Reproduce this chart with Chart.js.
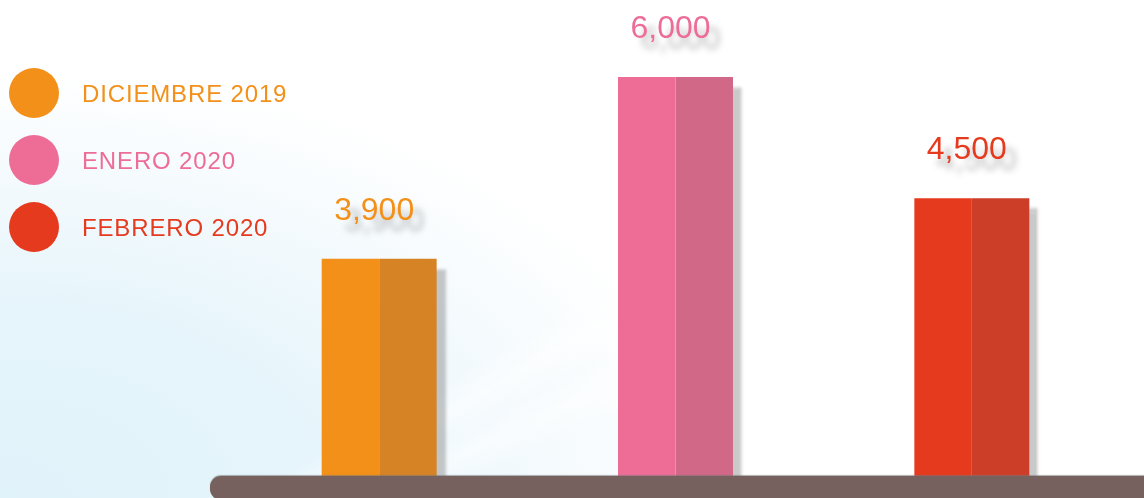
<!DOCTYPE html>
<html>
<head>
<meta charset="utf-8">
<script src="https://cdn.jsdelivr.net/npm/chart.js@4/dist/chart.umd.min.js"></script>
<style>
  html, body { margin: 0; padding: 0; }
  body {
    width: 1144px; height: 498px; overflow: hidden; position: relative;
    background:
      linear-gradient(150deg, rgba(255,255,255,0) 55%, rgba(255,255,255,0.55) 58%, rgba(255,255,255,0) 61%),
      linear-gradient(155deg, rgba(255,255,255,0) 62%, rgba(255,255,255,0.5) 65%, rgba(255,255,255,0) 68%),
      radial-gradient(ellipse 720px 430px at 0% 100%, #e0f2fa 0%, #e6f5fb 45%, #f4fafd 75%, rgba(255,255,255,0) 100%),
      #ffffff;
    font-family: "Liberation Sans", Arial, sans-serif;
  }
  #wrap { position: absolute; left: 0; top: 0; width: 1144px; height: 498px; }
  canvas { position: absolute; left: 0; top: 0; }
  #legend { position: absolute; left: 0; top: 0; }
  .item { position: absolute; left: 9px; height: 50px; display: flex; align-items: center; }
  .dot { width: 50px; height: 50px; border-radius: 50%; }
  .lbl { position: absolute; left: 73px; font-size: 24px; letter-spacing: 0.85px; white-space: nowrap; top: 12px; line-height: 28px; }
</style>
</head>
<body>
<div id="wrap">
  <canvas id="c" width="1144" height="498"></canvas>
  <div id="legend"></div>
</div>
<script>
// ---- data ----
const categories = ['DICIEMBRE 2019', 'ENERO 2020', 'FEBRERO 2020'];
const values = [3900, 6000, 4500];
const lightColors = ['#f39019', '#ed6d97', '#e63a1e'];
const darkColors = ['#d68326', '#d26888', '#cc3e28'];
const axisMin = 2330;
const axisMax = 7200;

// ---- legend (HTML text) ----
const legendTops = [68, 135, 202];
const legend = document.getElementById('legend');
categories.forEach((name, i) => {
  const it = document.createElement('div');
  it.className = 'item';
  it.style.top = legendTops[i] + 'px';
  const dot = document.createElement('div');
  dot.className = 'dot';
  dot.style.background = lightColors[i];
  const lbl = document.createElement('div');
  lbl.className = 'lbl';
  lbl.style.color = lightColors[i];
  lbl.textContent = name;
  it.appendChild(dot);
  it.appendChild(lbl);
  legend.appendChild(it);
});

// ---- plugins ----
const shadowPlugin = {
  id: 'barShadow',
  beforeDatasetDraw(chart, args) {
    if (args.index === 1) {
      const ctx = chart.ctx;
      ctx.save();
      ctx.shadowColor = 'rgba(60,60,60,0.28)';
      ctx.shadowBlur = 3;
      ctx.shadowOffsetX = 9;
      ctx.shadowOffsetY = 10;
    }
  },
  afterDatasetDraw(chart, args) {
    if (args.index === 1) chart.ctx.restore();
  }
};

const decorPlugin = {
  id: 'decor',
  afterDatasetsDraw(chart) {
    const ctx = chart.ctx;
    const area = chart.chartArea;
    const meta0 = chart.getDatasetMeta(0);
    // value labels
    ctx.save();
    ctx.font = '32px "Liberation Sans", Arial, sans-serif';
    ctx.textAlign = 'center';
    ctx.textBaseline = 'middle';
    meta0.data.forEach((bar, i) => {
      const cx = bar.x + bar.width / 2 - 5;
      const cy = bar.y - 48;
      ctx.shadowColor = 'rgba(60,60,60,0.35)';
      ctx.shadowBlur = 6;
      ctx.shadowOffsetX = 10;
      ctx.shadowOffsetY = 11;
      ctx.fillStyle = lightColors[i];
      ctx.fillText(values[i].toLocaleString('en-US'), cx, cy);
    });
    ctx.restore();
    // baseline bar
    ctx.save();
    const y0 = area.bottom;
    const x0 = 210;
    const h = 24;
    const r = 11;
    ctx.shadowColor = 'rgba(120,120,120,0.6)';
    ctx.shadowBlur = 1;
    ctx.shadowOffsetY = -1;
    ctx.fillStyle = '#76615e';
    ctx.beginPath();
    ctx.moveTo(x0 + r, y0);
    ctx.lineTo(chart.width + 5, y0);
    ctx.lineTo(chart.width + 5, y0 + h);
    ctx.lineTo(x0 + r, y0 + h);
    ctx.arcTo(x0, y0 + h, x0, y0 + h - r, r);
    ctx.lineTo(x0, y0 + r);
    ctx.arcTo(x0, y0, x0 + r, y0, r);
    ctx.closePath();
    ctx.fill();
    ctx.restore();
  }
};

new Chart(document.getElementById('c'), {
  type: 'bar',
  data: {
    labels: categories,
    datasets: [
      { data: values, backgroundColor: lightColors, borderWidth: 0, base: axisMin },
      { data: values, backgroundColor: darkColors, borderWidth: 0, base: axisMin }
    ]
  },
  options: {
    responsive: false,
    animation: false,
    devicePixelRatio: 1,
    layout: { padding: { left: 231, right: 24, top: 0, bottom: 22 } },
    datasets: { bar: { categoryPercentage: 0.388, barPercentage: 1 } },
    scales: {
      x: { display: false, grid: { display: false } },
      y: { type: 'logarithmic', display: false, min: axisMin, max: axisMax, grid: { display: false } }
    },
    plugins: {
      legend: { display: false },
      tooltip: { enabled: false },
      title: { display: false }
    }
  },
  plugins: [shadowPlugin, decorPlugin]
});
</script>
</body>
</html>
